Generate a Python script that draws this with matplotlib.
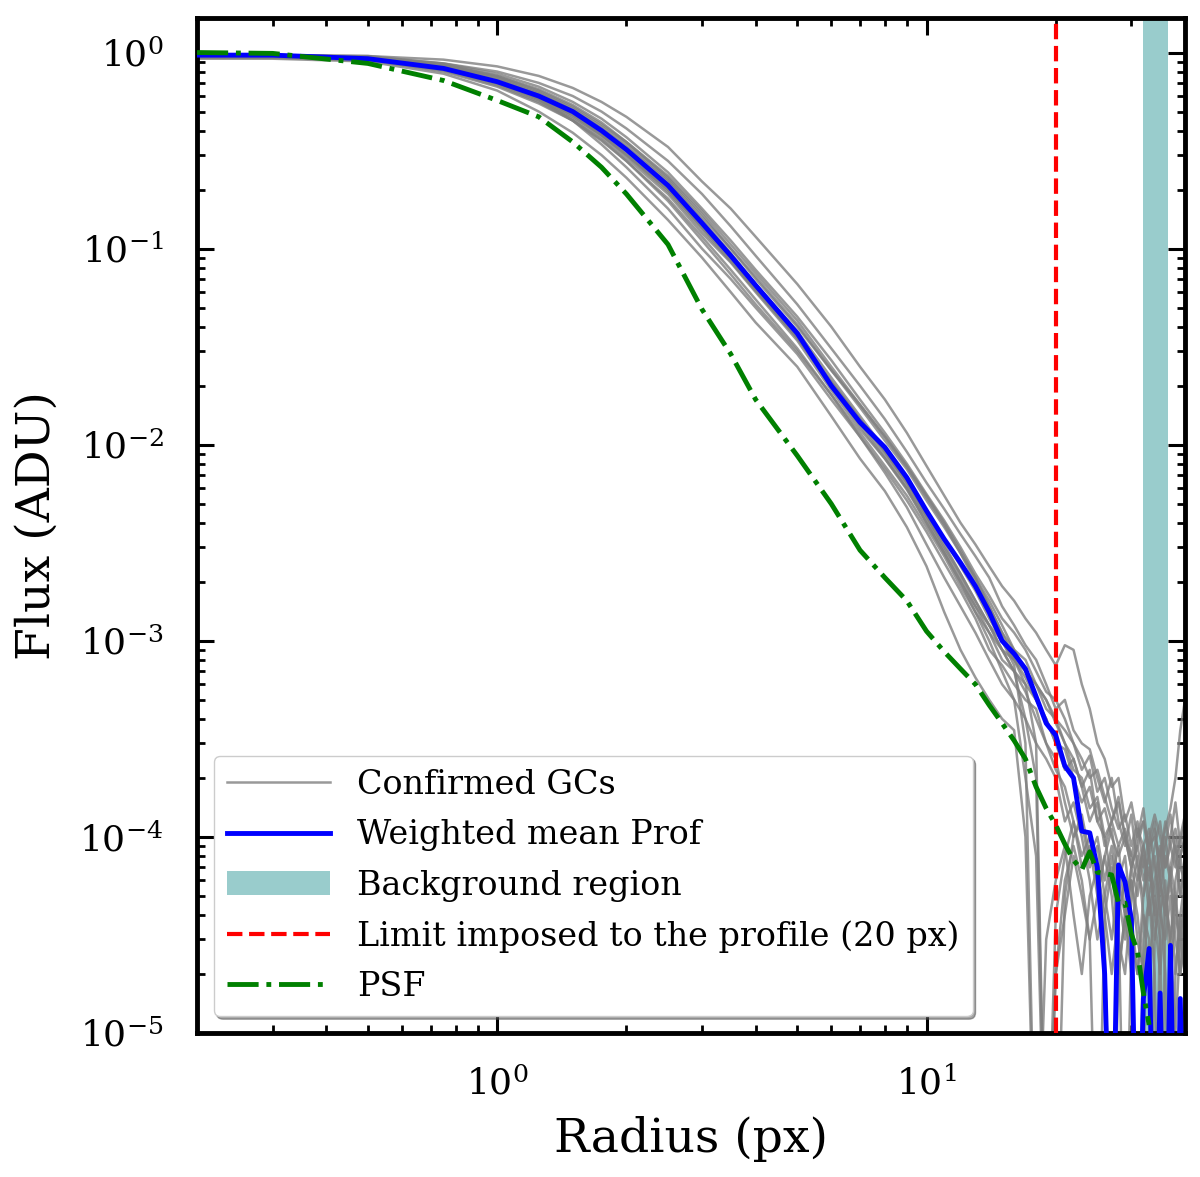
import matplotlib
matplotlib.use("Agg")
import matplotlib.pyplot as plt
from matplotlib.patches import Patch
from matplotlib.lines import Line2D

plt.rcParams['font.family'] = 'DejaVu Serif'
plt.rcParams['mathtext.fontset'] = 'dejavuserif'

# radius grid (px)
radius = [0.2, 0.3, 0.5, 0.75, 1.0, 1.25, 1.5, 1.75, 2.0, 2.5, 3.0, 3.5, 4.0, 5.0,
          6.0, 7.0, 8.0, 9.0, 10, 11, 12, 13, 14, 15, 16, 17, 18, 19, 20, 21, 22,
          23, 24, 25, 26, 27, 28, 29, 30, 31, 32, 33, 34, 35, 36, 37, 38, 39, 40]

# confirmed GC profiles (normalised flux)
gc01 = [.97, .97, .96, .92, .85, .76, .66, .56, .47, .33, .22, .16, .115, .066,
        .040, .025, .017, .0115, .0078, .0055, .0040, .0031, .0024, .0019, .0016, .0013, .0011, .0009, .00075, .00095, .0009,
        .0006, .00045, .0003, .00025, .00018, .0002, .00012, .00015, .0001, .00012, .00009, .0001, .00008, .00011, .00014, .0002, .00035, .0005]
gc02 = [.96, .96, .95, .88, .80, .70, .60, .50, .41, .28, .19, .13, .092, .052,
        .031, .020, .0135, .0092, .0064, .0047, .0035, .0027, .0021, .0015, .0012, .00095, .0008, .0006, .00045, .0005, .00035,
        .0003, .00028, .0002, .00015, .0002, .00012, .00009, .00013, .00007, .00005, .00009, .00012, .00006, .00004, .00007, .0001, .00005, .00008]
gc03 = [.95, .95, .93, .86, .76, .65, .54, .44, .35, .23, .15, .10, .072, .041,
        .024, .0155, .0105, .0075, .0052, .0038, .0028, .0021, .0016, .0012, .0009, .0007, .0006, .00045, .0004, .0003, .00025,
        .00018, .00022, .00012, .0001, .00006, .00009, .00004, .00002, 1e-6, .00003, .00005, .00002, 1e-6, .00004, .00006, .00003, .00002, .00004]
gc04 = [.96, .96, .93, .82, .69, .57, .46, .37, .29, .19, .12, .085, .06, .034,
        .019, .012, .0085, .006, .0042, .0029, .0021, .0015, .0011, .0008, .0007, .00055, .0004, .0003, .00022, .00018, .00012,
        .00008, .0001, .00006, .00003, 1e-6, .00002, .00004, .00006, .00003, .00002, 1e-6, .00003, .00005, .00002, 1e-6, .00002, .00004, .00002]
gc05 = [.93, .93, .90, .78, .64, .50, .39, .30, .23, .14, .09, .06, .042, .025,
        .014, .0085, .0058, .0038, .0024, .0014, .0009, .00065, .0005, .0004, .00035, .0001, 1e-6, 1e-6, .00002, .00004, .00008,
        .00005, .00003, 1e-6, .00004, .00007, .00003, .00002, .00005, .00008, .00004, .00002, .00005, .00003, 1e-6, .00003, .00005, .00002, .00003]
gc06 = [.97, .97, .95, .86, .72, .58, .45, .34, .26, .16, .10, .07, .05, .029,
        .017, .011, .0075, .0052, .0036, .0025, .0018, .0013, .0009, .00075, .0006, .0005, .00045, .0003, .00025, .00015, .0001,
        .00012, .00007, .00009, .00005, .00003, .00006, .00008, .00004, .00002, .00005, .00007, .00004, .00002, .00005, .00003, .00001, .00003, .00005]
gc07 = [.96, .96, .94, .85, .74, .62, .51, .41, .33, .22, .14, .095, .066, .036,
        .021, .0135, .0092, .0063, .0043, .003, .0022, .0016, .0012, .0009, .0007, .0004, .0002, 1e-6, 1e-6, .00005, .0001,
        .00013, .00008, .0001, .00006, .00009, .00005, .00003, .00007, .00005, .00008, .00004, .00006, .00009, .00005, .00003, .00006, .00008, .0001]
gc08 = [.95, .95, .92, .80, .67, .55, .45, .36, .28, .18, .115, .078, .055, .031,
        .018, .0115, .0078, .0055, .0038, .0027, .0019, .0014, .0011, .0009, .0008, .0006, .0005, .0004, .0003, .00028, .0002,
        .00015, .00018, .00012, .00014, .0001, .00008, .0001, .00007, .00009, .00012, .00008, .00005, .00008, .00012, .00009, .00007, .0001, .00013]
gc09 = [.97, .97, .96, .88, .78, .67, .56, .46, .37, .245, .16, .11, .078, .045,
        .027, .017, .0115, .008, .0056, .0041, .003, .0022, .0017, .0013, .0011, .0009, .0007, .00055, .0005, .0004, .0003,
        .00025, .0002, .00022, .00016, .00012, .00015, .0001, .00008, .00011, .00009, .00006, .00009, .00012, .00007, .0001, .00015, .00009, .00012]
gc10 = [.96, .96, .94, .84, .71, .59, .48, .38, .30, .20, .128, .088, .062, .035,
        .0205, .013, .0088, .006, .004, .0028, .002, .0015, .0012, .001, .00075, .0003, 1e-6, .00003, .00006, .00009, .00004,
        .00002, .00005, .00007, .00004, .00002, .00004, .00006, .00003, .00002, .00004, .00003, 1e-6, .00004, .00006, .00002, .00004, .00003, .00002]
gc11 = [.97, .97, .95, .87, .75, .63, .52, .42, .34, .225, .145, .10, .07, .04,
        .024, .016, .011, .0078, .0055, .004, .0029, .0021, .0015, .0011, .0008, .0007, .0006, .0005, .00038, .0003, .00022,
        .0002, .00014, .00016, .0001, .00012, .00009, .00011, .00008, .00006, .00009, .00011, .00007, .00005, .00008, .00006, .00009, .00007, .00006]
gc12 = [.94, .94, .91, .81, .68, .56, .45, .355, .28, .175, .11, .074, .052, .03,
        .018, .011, .0072, .0048, .0031, .0021, .0015, .0011, .0008, .0006, .0005, .0002, .00008, 1e-6, .00002, .00006, .00009,
        .00006, .00003, .00005, .00008, .00005, .00002, .00004, .00006, .00004, .00002, .00005, .00008, .00004, .00003, .00005, .00002, .00004, .00006]
gc13 = [.96, .96, .94, .85, .73, .61, .50, .40, .32, .21, .135, .093, .066, .038,
        .022, .014, .0095, .0066, .0046, .0033, .0024, .0018, .0013, .0010, .0008, .00065, .0005, .0004, .0003, .00022, .00025,
        .00018, .00012, .00015, .00009, .00012, .00016, .0001, .00007, .0001, .00014, .00008, .00011, .00006, .00009, .00013, .00008, .00005, .00007]
gc14 = [.95, .95, .93, .83, .70, .58, .47, .38, .30, .195, .125, .086, .061, .035,
        .02, .0125, .0085, .0059, .004, .0028, .002, .0014, .001, .0007, .0005, .0004, .0003, .00025, .0002, .00012, .00015,
        .0001, .00006, .00003, .00005, .00008, .00004, 1e-6, .00003, .00006, .00009, .00005, .00003, .00006, .00004, .00007, .00005, .00003, .00005]
gc15 = [.97, .97, .95, .87, .76, .64, .53, .43, .35, .235, .155, .105, .075, .043,
        .025, .016, .011, .0077, .0054, .0039, .0028, .002, .0015, .0011, .0009, .0008, .0006, .0005, .0004, .00035, .0003,
        .00022, .00026, .00017, .0002, .00014, .00011, .00013, .00009, .00012, .00007, .0001, .00013, .0001, .00007, .00009, .00011, .00008, .0001]
gc16 = [.96, .96, .93, .83, .70, .58, .48, .385, .305, .20, .13, .09, .063, .036,
        .021, .0135, .0092, .0064, .0044, .0031, .0022, .0016, .0012, .0009, .0007, .0006, .0003, 1e-6, .00004, .00008, .00012,
        .00007, .00009, .00005, .00008, .00011, .00006, .00004, .00007, .00009, .00006, .00008, .00004, .00007, .0001, .00006, .00004, .00008, .00005]
gc_profiles = [gc01, gc02, gc03, gc04, gc05, gc06, gc07, gc08,
               gc09, gc10, gc11, gc12, gc13, gc14, gc15, gc16]

# weighted mean profile
mean_prof = [.97, .97, .93, .83, .71, .60, .50, .40, .32, .21, .135, .092, .065, .037,
             .020, .013, .0097, .0068, .0046, .0033, .0025, .0019, .0014, .0010, .00086, .00072, .00052, .00038, .00033, .00023, .00020,
             .000107, .000105, .00007, .00002, 1e-6, .000072, .000059, .000038, 1e-6, .000015, .000027, 1e-6, .000016, 1e-6, .000028, 1e-6, .000015, 1e-6]

# PSF profile
psf_radius = [0.2, 0.3, 0.5, 0.75, 1.0, 1.25, 1.5, 1.75, 2.0, 2.5, 3.0, 3.5, 4.0, 5.0,
              6.0, 7.0, 8.0, 9.0, 10, 11, 12, 13, 14, 15, 16, 17, 18, 19, 20, 21, 22,
              23, 24, 25, 26, 27, 28, 29, 30, 31, 32, 33]
psf_prof = [1.0, .99, .88, .72, .57, .47, .35, .26, .19, .105, .049, .029, .017, .0088,
            .0050, .0029, .0021, .0016, .00112, .00088, .00072, .00060, .00047, .00038, .00031, .00025, .00018, .00014, .000115, .000092, .000076,
            .000068, .000084, .000066, .000065, .000064, .000046, .000046, .000032, .000026, .000016, .000011]

limit_px = 20
bkg_range = (32, 36.5)


def main():
    fig = plt.figure(figsize=(12, 11.77), dpi=100)
    ax = fig.add_axes([0.1642, 0.1223, 0.8233, 0.8624])

    ax.axvspan(bkg_range[0], bkg_range[1], color='teal', alpha=0.4, lw=0, zorder=1)
    for prof in gc_profiles:
        ax.plot(radius, prof, color='gray', alpha=0.8, lw=1.8, zorder=2)
    ax.axvline(limit_px, color='red', ls='--', lw=3, zorder=3)
    ax.plot(radius, mean_prof, color='blue', lw=3.5, zorder=4)
    ax.plot(psf_radius, psf_prof, color='green', ls='-.', lw=3.5, zorder=5)

    ax.set_xscale('log')
    ax.set_yscale('log')
    ax.set_xlim(0.2, 40)
    ax.set_ylim(1e-5, 1.5)

    ax.set_xlabel('Radius (px)', fontsize=34, labelpad=10)
    ax.set_ylabel('Flux (ADU)', fontsize=34, labelpad=14)

    for s in ax.spines.values():
        s.set_linewidth(3.5)
    ax.tick_params(which='both', direction='in', top=True, right=True, labelsize=26, pad=24)
    ax.tick_params(which='major', length=12, width=2.2)
    ax.tick_params(which='minor', length=6, width=2)

    handles = [
        Line2D([], [], color='gray', alpha=0.8, lw=1.8),
        Line2D([], [], color='blue', lw=3.5),
        Patch(facecolor='teal', alpha=0.4, lw=0),
        Line2D([], [], color='red', ls='--', lw=3),
        Line2D([], [], color='green', ls='-.', lw=3.5),
    ]
    labels = ['Confirmed GCs', 'Weighted mean Prof', 'Background region',
              'Limit imposed to the profile (20 px)', 'PSF']
    ax.legend(handles, labels, loc='lower left', fontsize=24, shadow=True,
              handlelength=3.1, labelspacing=0.55, framealpha=1)

    fig.savefig('out.png', dpi=100)


if __name__ == "__main__":
    main()
